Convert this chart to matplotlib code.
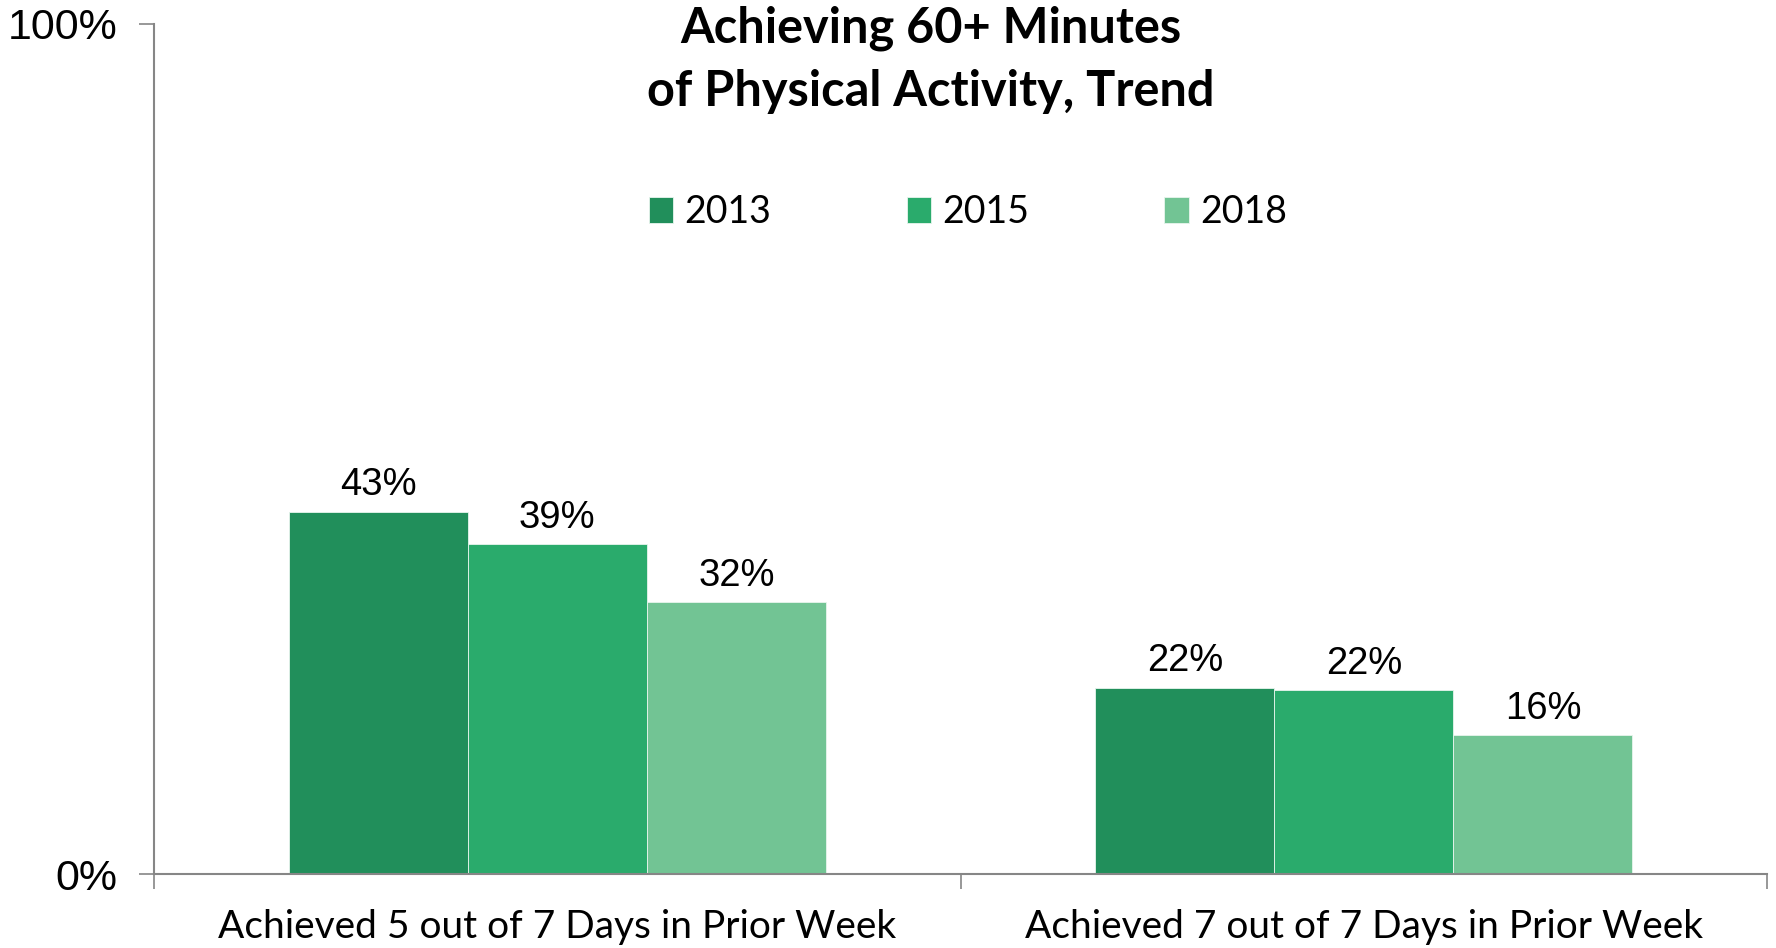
import numpy as np
import matplotlib.pyplot as plt

categories = ["Achieved 5 out of 7 Days in Prior Week", "Achieved 7 out of 7 Days in Prior Week"]
years = ["2013", "2015", "2018"]
v2013 = [42.6, 21.9]
v2015 = [38.8, 21.6]
v2018 = [32.0, 16.3]
colors = ["#218F5B", "#2AAB6C", "#72C494"]

fig = plt.figure(figsize=(17.76, 9.48), dpi=100)
ax = fig.add_axes([0.0867, 0.078, 0.9083, 0.8967])

x = np.arange(len(categories))
w = 0.222
series = [v2013, v2015, v2018]
for i, vals in enumerate(series):
    bars = ax.bar(x + (i - 1) * w, vals, width=w, color=colors[i], label=years[i],
                  edgecolor="#e8f5ee", linewidth=0.6, zorder=2)
    for b, v in zip(bars, vals):
        ax.text(b.get_x() + b.get_width() / 2, v + 1.0, f"{round(v)}%",
                ha="center", va="bottom", fontsize=27.5, family="Liberation Sans")

ax.set_xlim(-0.5, 1.5)
ax.set_ylim(0, 100)
ax.set_yticks([0, 100])
ax.set_yticklabels(["0%", "100%"], family="Liberation Sans", fontsize=31)
ax.set_xticks([-0.5, 0.5, 1.5])
ax.set_xticklabels([])
ax.set_xticks(x, minor=True)
ax.set_xticklabels(categories, minor=True, family="Lato", fontsize=28)
ax.tick_params(axis="x", which="minor", length=0, pad=25)
ax.tick_params(axis="x", which="major", length=11, width=1.2, color="#868686")
ax.tick_params(axis="y", length=11, width=1.2, color="#868686", pad=15)

for s in ["top", "right"]:
    ax.spines[s].set_visible(False)
for s in ["left", "bottom"]:
    ax.spines[s].set_color("#868686")
    ax.spines[s].set_linewidth(1.5)

fig.text(0.524, 0.937, "Achieving 60+ Minutes\nof Physical Activity, Trend",
         ha="center", va="center", fontsize=35, fontweight="bold", family="Lato",
         linespacing=1.5)

ax.legend(loc="center", bbox_to_anchor=(0.545, 0.776), bbox_transform=fig.transFigure,
          ncol=3, frameon=False, prop={"family": "Lato", "size": 27},
          handlelength=0.65, handleheight=0.7, handletextpad=0.3, columnspacing=3.6)

fig.savefig("out.png", dpi=100)
